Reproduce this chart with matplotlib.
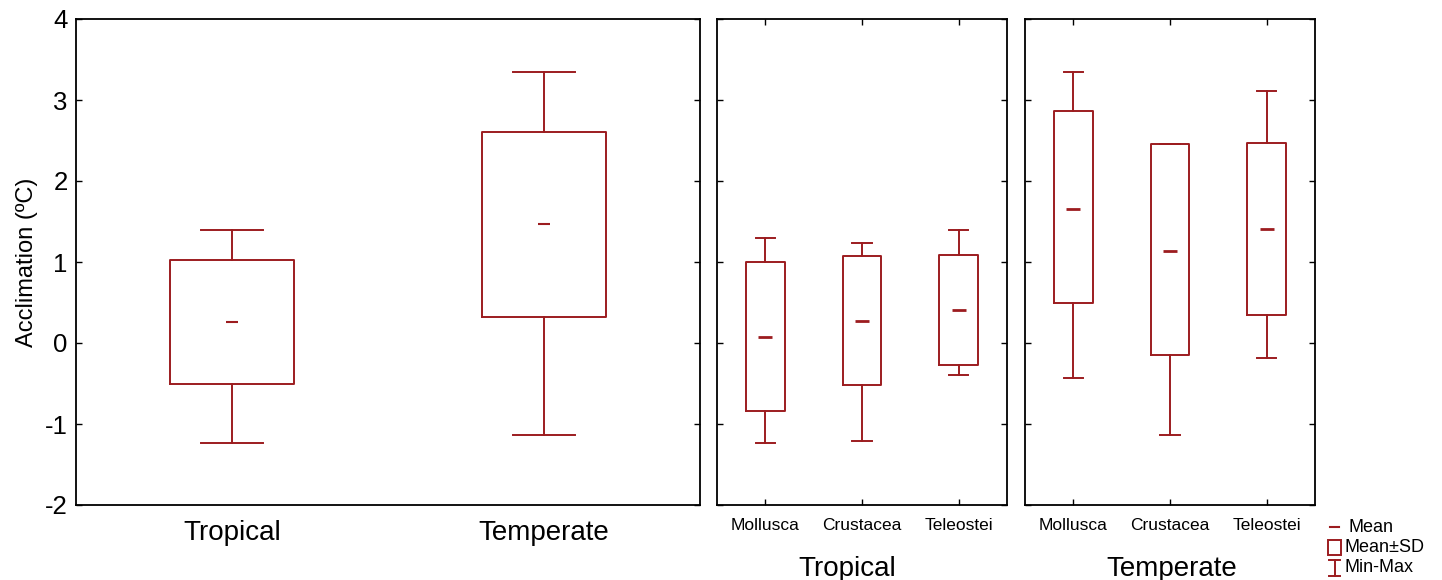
import matplotlib
matplotlib.use("Agg")
import matplotlib.pyplot as plt
from matplotlib.lines import Line2D
from matplotlib.patches import Rectangle

plt.rcParams['font.family'] = ['Liberation Sans', 'DejaVu Sans']

RED = '#9c1c1f'

# Panel 1: climate zones
zones = ['Tropical', 'Temperate']
zone_mean = [0.26, 1.47]
zone_sd_lo = [-0.50, 0.32]
zone_sd_hi = [1.03, 2.61]
zone_min = [-1.23, -1.13]
zone_max = [1.39, 3.34]

# Panels 2/3: taxa within zones
taxa = ['Mollusca', 'Crustacea', 'Teleostei']
trop_mean = [0.07, 0.27, 0.41]
trop_sd_lo = [-0.84, -0.52, -0.27]
trop_sd_hi = [1.00, 1.07, 1.09]
trop_min = [-1.24, -1.21, -0.39]
trop_max = [1.30, 1.23, 1.39]

temp_mean = [1.66, 1.14, 1.41]
temp_sd_lo = [0.50, -0.15, 0.35]
temp_sd_hi = [2.86, 2.46, 2.47]
temp_min = [-0.43, -1.13, -0.19]
temp_max = [3.34, 2.46, 3.11]

yticks = [-2, -1, 0, 1, 2, 3, 4]

fig = plt.figure(figsize=(14.42, 5.80), dpi=100)
W, H = 1442, 580

def axes_px(x0, x1, ytop, ybot):
    return fig.add_axes([x0 / W, (H - ybot) / H, (x1 - x0) / W, (ybot - ytop) / H])

ax1 = axes_px(76, 700, 19, 505)
ax2 = axes_px(717, 1007, 19, 505)
ax3 = axes_px(1025, 1315, 19, 505)

def draw(ax, labels, mean, lo, hi, mn, mx, meansize):
    stats = []
    for i in range(len(labels)):
        stats.append(dict(med=mean[i], q1=lo[i], q3=hi[i], whislo=mn[i],
                          whishi=mx[i], mean=mean[i], fliers=[], label=labels[i]))
    pos = [i + 0.5 for i in range(len(labels))]
    lp = dict(color=RED, linewidth=1.4)
    ax.bxp(stats, positions=pos, widths=0.4, showmeans=True, showfliers=False,
           boxprops=lp, whiskerprops=lp, capprops=lp, capwidths=0.2,
           medianprops=dict(linewidth=0, alpha=0),
           meanprops=dict(marker='_', markeredgecolor=RED, markersize=meansize,
                          markeredgewidth=2.0 if meansize > 8 else 1.5),
           manage_ticks=False)
    ax.set_xlim(0, len(labels))
    ax.set_ylim(-2, 4)
    ax.set_yticks(yticks)
    ax.set_xticks(pos)
    for s in ax.spines.values():
        s.set_linewidth(1.3)

draw(ax1, zones, zone_mean, zone_sd_lo, zone_sd_hi, zone_min, zone_max, 8)
draw(ax2, taxa, trop_mean, trop_sd_lo, trop_sd_hi, trop_min, trop_max, 10)
draw(ax3, taxa, temp_mean, temp_sd_lo, temp_sd_hi, temp_min, temp_max, 10)

ax1.set_yticklabels([str(t) for t in yticks], fontsize=18.5)
ax1.tick_params(axis='y', direction='in', length=4, right=True, width=1, pad=6)
ax1.tick_params(axis='x', length=0, pad=11)
ax1.set_xticklabels(zones, fontsize=20)
ax1.set_ylabel('Acclimation (ºC)', fontsize=17, labelpad=5)

for ax, grp in ((ax2, 'Tropical'), (ax3, 'Temperate')):
    ax.set_yticklabels([])
    ax.tick_params(axis='y', direction='in', length=4, right=True, left=True, width=1)
    ax.tick_params(axis='x', direction='in', length=4, top=True, bottom=True, width=1, pad=9)
    ax.set_xticklabels(taxa, fontsize=12.5)
    ax.set_xlabel(grp, fontsize=20)
ax2.xaxis.set_label_coords(0.448, -0.105)
ax3.xaxis.set_label_coords(0.505, -0.105)

# Legend (figure pixels)
def fx(x): return x / W
def fy(y): return (H - y) / H

fig.add_artist(Line2D([fx(1330), fx(1339)], [fy(527), fy(527)], color=RED, lw=1.5))
fig.add_artist(Rectangle((fx(1328), fy(555)), (1341 - 1328) / W, 15 / H,
                         fill=False, edgecolor=RED, lw=1.4, transform=fig.transFigure))
fig.add_artist(Line2D([fx(1334.5), fx(1334.5)], [fy(560), fy(576)], color=RED, lw=1.4))
fig.add_artist(Line2D([fx(1329), fx(1340)], [fy(560), fy(560)], color=RED, lw=1.4))
fig.add_artist(Line2D([fx(1329), fx(1340)], [fy(576), fy(576)], color=RED, lw=1.4))
fig.text(fx(1349), fy(527), 'Mean', fontsize=13, va='center', ha='left')
fig.text(fx(1345), fy(548), 'Mean±SD', fontsize=13, va='center', ha='left')
fig.text(fx(1345), fy(568), 'Min-Max', fontsize=13, va='center', ha='left')

fig.savefig('out.png', dpi=100)
